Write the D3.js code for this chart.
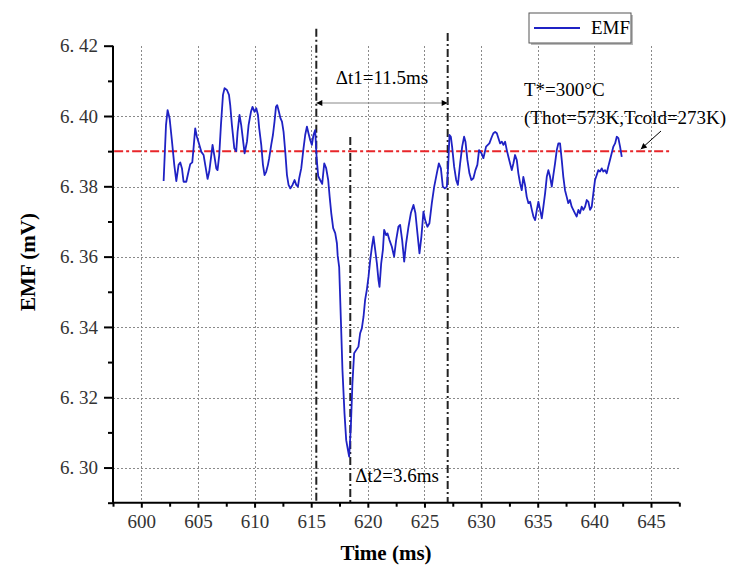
<html>
<head>
<title> EMF response </title>
<script src="https://d3js.org/d3.v7.min.js"></script>
<style>
body {
  margin: 0;
  background: white;
}
text {
  font-family: "Liberation Serif", "Times New Roman", serif;
}
.axis path, .axis line {
  stroke: black;
  stroke-width: 2;
}
.axis text {
  fill: #333;
  font-size: 19px;
}
</style>
</head>
<body>
<svg id="chart" height="568" width="734"></svg>

<script>

// measured signal (time in ms, EMF in mV)
const time = [601.97,602.18,602.32,602.50,602.71,602.91,603.09,603.29,603.44,603.59,603.73,603.97,604.17,604.32,604.50,604.61,604.76,604.91,605.12,605.30,
  605.50,605.67,605.85,606.00,606.18,606.29,606.44,606.62,606.73,606.88,607.03,607.21,607.35,607.56,607.74,607.85,608.00,608.21,608.38,608.50,
  608.67,608.82,609.12,609.33,609.47,609.68,609.82,610.00,610.15,610.30,610.41,610.59,610.74,610.88,611.03,611.18,611.29,611.47,611.62,611.76,
  611.89,612.00,612.15,612.29,612.42,612.56,612.71,612.86,613.00,613.15,613.35,613.53,613.68,613.83,613.94,614.12,614.32,614.47,614.62,614.76,
  614.91,615.06,615.20,615.35,615.49,615.62,615.79,615.97,616.15,616.32,616.50,616.63,616.77,616.94,617.12,617.27,617.34,617.47,617.62,617.76,
  617.94,618.09,618.24,618.35,618.50,618.64,618.79,618.97,619.17,619.32,619.47,619.62,619.76,619.91,620.06,620.21,620.36,620.50,620.65,620.80,
  620.94,621.03,621.18,621.33,621.44,621.62,621.74,621.91,622.12,622.32,622.50,622.70,622.85,623.03,623.21,623.38,623.59,623.80,624.03,624.20,
  624.38,624.56,624.73,624.91,625.06,625.26,625.44,625.65,625.86,626.09,626.27,626.45,626.62,626.80,626.98,627.09,627.21,627.33,627.44,627.62,
  627.80,627.95,628.15,628.33,628.50,628.62,628.79,628.97,629.14,629.32,629.50,629.67,629.82,630.03,630.20,630.44,630.73,630.95,631.09,631.24,
  631.39,631.53,631.68,631.83,631.97,632.12,632.27,632.41,632.56,632.71,632.85,633.00,633.15,633.29,633.44,633.59,633.73,633.88,634.03,634.18,
  634.33,634.48,634.62,634.77,634.92,635.06,635.21,635.36,635.50,635.65,635.80,635.94,636.09,636.24,636.38,636.53,636.68,636.82,636.97,637.12,
  637.26,637.41,637.56,637.70,637.85,638.00,638.14,638.29,638.44,638.59,638.73,638.88,639.03,639.18,639.33,639.47,639.62,639.77,639.91,640.06,
  640.21,640.35,640.50,640.65,640.79,640.94,641.09,641.23,641.38,641.53,641.68,641.83,641.98,642.12,642.27,642.42];

const emf = [6.3815,6.3974,6.4017,6.3993,6.3927,6.3861,6.3815,6.3861,6.3868,6.3851,6.3813,6.3813,6.3842,6.3863,6.3868,6.3908,6.3965,6.3941,6.3918,6.3898,
  6.3889,6.3856,6.3821,6.3842,6.3889,6.3918,6.3889,6.3851,6.3846,6.3889,6.3974,6.4060,6.4079,6.4074,6.4060,6.4031,6.3974,6.3908,6.3900,6.3955,
  6.4003,6.3974,6.3894,6.3927,6.3974,6.4012,6.4026,6.4012,6.4022,6.4003,6.3965,6.3918,6.3861,6.3832,6.3842,6.3861,6.3880,6.3918,6.3946,6.3984,
  6.4026,6.4031,6.4012,6.3993,6.3984,6.3955,6.3898,6.3832,6.3804,6.3794,6.3804,6.3818,6.3804,6.3799,6.3823,6.3851,6.3908,6.3946,6.3970,6.3951,
  6.3932,6.3918,6.3946,6.3960,6.3875,6.3829,6.3818,6.3807,6.3865,6.3852,6.3818,6.3770,6.3724,6.3681,6.3667,6.3638,6.3602,6.3570,6.3420,6.3277,
  6.3154,6.3078,6.3050,6.3031,6.3116,6.3240,6.3325,6.3334,6.3344,6.3382,6.3396,6.3429,6.3477,6.3505,6.3543,6.3590,6.3628,6.3657,6.3619,6.3581,
  6.3533,6.3514,6.3581,6.3619,6.3676,6.3661,6.3666,6.3647,6.3628,6.3600,6.3647,6.3685,6.3690,6.3647,6.3586,6.3638,6.3685,6.3724,6.3747,6.3724,
  6.3666,6.3609,6.3657,6.3728,6.3704,6.3685,6.3695,6.3752,6.3799,6.3837,6.3865,6.3851,6.3799,6.3794,6.3799,6.3856,6.3946,6.3941,6.3913,6.3856,
  6.3818,6.3804,6.3865,6.3913,6.3941,6.3927,6.3875,6.3837,6.3818,6.3823,6.3846,6.3861,6.3903,6.3894,6.3880,6.3913,6.3922,6.3941,6.3951,6.3955,
  6.3951,6.3937,6.3922,6.3927,6.3918,6.3927,6.3903,6.3884,6.3865,6.3846,6.3865,6.3889,6.3875,6.3837,6.3809,6.3789,6.3827,6.3804,6.3770,6.3752,
  6.3756,6.3733,6.3714,6.3704,6.3733,6.3756,6.3733,6.3709,6.3742,6.3780,6.3827,6.3846,6.3827,6.3799,6.3832,6.3865,6.3903,6.3922,6.3922,6.3875,
  6.3827,6.3789,6.3770,6.3752,6.3761,6.3742,6.3733,6.3723,6.3714,6.3733,6.3723,6.3742,6.3733,6.3742,6.3761,6.3756,6.3733,6.3742,6.3780,6.3818,
  6.3832,6.3846,6.3842,6.3851,6.3842,6.3846,6.3837,6.3856,6.3875,6.3894,6.3913,6.3922,6.3941,6.3937,6.3913,6.3884];

// ticks
const xTicks = [600,605,610,615,620,625,630,635,640,645];
const xMinorTicks = [597.5,602.5,607.5,612.5,617.5,622.5,627.5,632.5,637.5,642.5,647.5];
const yTicks = [6.30,6.32,6.34,6.36,6.38,6.40,6.42];
const yMinorTicks = [6.29,6.31,6.33,6.35,6.37,6.39,6.41];
const yGridTicks = [6.30,6.32,6.34,6.36,6.38,6.40];

// annotations
const refEmf = 6.39;              // T* = 300 C level
const refRange = [597.6, 646.6];
const markerTimes = [615.45, 627.05, 618.45];
const markerTops = [6.4248, 6.4236, 6.3940];
const dt1Level = 6.4037;
const pointerEnd = 644.1;

//creating space for the graph
const svg = d3.select("svg#chart");
const width = svg.attr("width");
const height = svg.attr("height");
const margin = {top: 45.7, right: 54.7, bottom: 65.3, left: 113};
const chartWidth = width - margin.left - margin.right;
const chartHeight = height - margin.top - margin.bottom;

let chartArea = svg.append("g").attr("id","points")
                  .attr("transform",`translate(${margin.left},${margin.top})`);

//scales
const xScale = d3.scaleLinear().domain([597.5, 647.5]).range([0, chartWidth]);
const yScale = d3.scaleLinear().domain([6.29, 6.42]).range([chartHeight, 0]);

//gridlines (dotted grey)
let grid = chartArea.append("g").attr("id", "grid")
    .attr("stroke", "#8a8a8a").attr("stroke-width", 1)
    .attr("stroke-dasharray", "2,2").attr("shape-rendering", "crispEdges");
grid.selectAll("line.hgrid").data(yGridTicks).enter()
    .append("line").attr("class","hgrid")
    .attr("x1", 0).attr("x2", chartWidth)
    .attr("y1", d => Math.round(yScale(d)) + 0.5).attr("y2", d => Math.round(yScale(d)) + 0.5);
grid.selectAll("line.vgrid").data(xTicks).enter()
    .append("line").attr("class","vgrid")
    .attr("x1", d => Math.round(xScale(d)) + 0.5).attr("x2", d => Math.round(xScale(d)) + 0.5)
    .attr("y1", 0).attr("y2", chartHeight);

//red reference line
chartArea.append("line")
    .attr("x1", xScale(refRange[0])).attr("x2", xScale(refRange[1]))
    .attr("y1", yScale(refEmf)).attr("y2", yScale(refEmf))
    .attr("stroke", "#e8262a").attr("stroke-width", 2)
    .attr("stroke-dasharray", "9,3,3,3");

//vertical marker lines
markerTimes.forEach((t, i) => {
  chartArea.append("line")
      .attr("x1", xScale(t)).attr("x2", xScale(t))
      .attr("y1", yScale(markerTops[i])).attr("y2", chartHeight)
      .attr("stroke", "#222").attr("stroke-width", 2)
      .attr("stroke-dasharray", "8,3,2,3");
});

//the EMF curve
const line = d3.line().x((d, i) => xScale(time[i])).y(d => yScale(d));
chartArea.append("path")
    .datum(emf)
    .attr("fill", "none")
    .attr("stroke", "#1f22c4")
    .attr("stroke-width", 1.8)
    .attr("stroke-linejoin", "round")
    .attr("d", line);

//axes
const fmt = d => d3.format(".2f")(d).replace(".", ". ");
chartArea.append("g").attr("class","y axis")
    .call(d3.axisLeft(yScale).tickValues(yTicks).tickSize(9).tickPadding(6).tickFormat(fmt));
chartArea.append("g").attr("class","y axis minor")
    .call(d3.axisLeft(yScale).tickValues(yMinorTicks).tickSize(5).tickFormat(""));
chartArea.append("g").attr("class","x axis")
    .attr("transform",`translate(0,${chartHeight})`)
    .call(d3.axisBottom(xScale).tickValues(xTicks).tickSize(5).tickPadding(7).tickFormat(d3.format("d")));
chartArea.append("g").attr("class","x axis minor")
    .attr("transform",`translate(0,${chartHeight})`)
    .call(d3.axisBottom(xScale).tickValues(xMinorTicks).tickSize(4).tickFormat(""));
chartArea.selectAll(".minor .domain").remove();
chartArea.selectAll(".y.axis .domain").attr("d", `M0,0V${chartHeight}`);
chartArea.selectAll(".x.axis .domain").attr("d", `M0,0H${chartWidth}`);
chartArea.selectAll(".axis").attr("font-family", "Liberation Serif, serif");

//axis labels
svg.append("text")
    .attr("text-anchor", "middle")
    .attr("x", 386).attr("y", 560)
    .attr("font-weight", "bold").attr("font-size", "21px")
    .text("Time (ms)");
svg.append("text")
    .attr("text-anchor", "middle")
    .attr("transform", "translate(35,262) rotate(-90)")
    .attr("font-weight", "bold").attr("font-size", "21px")
    .text("EMF (mV)");

//arrow head
const defs = svg.append("defs");
defs.append("marker").attr("id","arr")
    .attr("viewBox","0 0 10 10").attr("refX",10).attr("refY",5)
    .attr("markerWidth",9).attr("markerHeight",6).attr("orient","auto-start-reverse")
    .attr("markerUnits","userSpaceOnUse")
    .append("path").attr("d","M0,0L10,5L0,10Z").attr("fill","black");

//delta t1 arrow
chartArea.append("line")
    .attr("x1", xScale(markerTimes[0])).attr("x2", xScale(markerTimes[1]))
    .attr("y1", yScale(dt1Level)).attr("y2", yScale(dt1Level))
    .attr("stroke", "#888").attr("stroke-width", 1)
    .attr("marker-start", "url(#arr)").attr("marker-end", "url(#arr)");

chartArea.append("text")
    .attr("text-anchor", "middle")
    .attr("x", xScale((markerTimes[0] + markerTimes[1]) / 2))
    .attr("y", yScale(dt1Level) - 19)
    .attr("font-size", "19px")
    .text("\u0394t1=11.5ms");

chartArea.append("text")
    .attr("x", xScale(markerTimes[2]) + 5)
    .attr("y", yScale(6.29) - 21)
    .attr("font-size", "19px")
    .text("\u0394t2=3.6ms");

//T* label and pointer
svg.append("text").attr("x", 524).attr("y", 96).attr("font-size", "19px").text("T*=300\u00B0C");
svg.append("text").attr("x", 524).attr("y", 124).attr("font-size", "19px").text("(Thot=573K,Tcold=273K)");
chartArea.append("line")
    .attr("x1", 661 - margin.left).attr("y1", 131 - margin.top)
    .attr("x2", xScale(pointerEnd)).attr("y2", yScale(refEmf) - 2)
    .attr("stroke", "black").attr("stroke-width", 1)
    .attr("marker-end", "url(#arr)");

//legend
const legend = svg.append("g").attr("class","legend");
legend.append("rect").attr("x", 531).attr("y", 15).attr("width", 102).attr("height", 30).attr("fill", "#bbb");
legend.append("rect").attr("x", 529).attr("y", 13).attr("width", 102).attr("height", 30).attr("fill", "white").attr("stroke", "#555");
legend.append("line").attr("x1", 534).attr("x2", 580).attr("y1", 28).attr("y2", 28).attr("stroke", "#1f22c4").attr("stroke-width", 2);
legend.append("text").attr("x", 591).attr("y", 34).attr("font-size", "19px").text("EMF");

</script>
</body>
</html>
